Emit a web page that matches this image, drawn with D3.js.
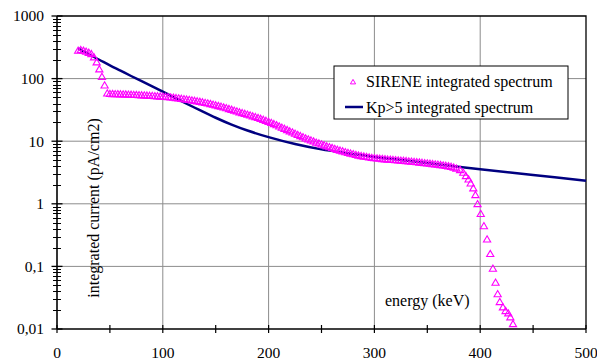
<!DOCTYPE html>
<html>
<head>
<meta charset="utf-8">
<script src="https://cdn.jsdelivr.net/npm/d3@7"></script>
<style>
  body { margin: 0; background: #fff; }
</style>
</head>
<body>
<svg id="plot1" width="597" height="362"></svg>
<script>
// SIRENE integrated spectrum (triangles), energy in keV / current in pA/cm2
var sireneEnergy = [20, 22.5, 25, 27.5, 30, 32.5, 35, 37.5, 40, 42.5, 45, 47.5,
  50, 52.5, 55, 57.5, 60, 62.5, 65, 67.5, 70, 72.5, 75, 77.5, 80, 82.5, 85, 87.5, 90, 92.5, 95, 97.5,
  100, 102.5, 105, 107.5, 110, 112.5, 115, 117.5, 120, 122.5, 125, 127.5, 130, 132.5, 135, 137.5, 140, 142.5, 145, 147.5,
  150, 152.5, 155, 157.5, 160, 162.5, 165, 167.5, 170, 172.5, 175, 177.5, 180, 182.5, 185, 187.5, 190, 192.5, 195, 197.5,
  200, 202.5, 205, 207.5, 210, 212.5, 215, 217.5, 220, 222.5, 225, 227.5, 230, 232.5, 235, 237.5, 240, 242.5, 245, 247.5,
  250, 252.5, 255, 257.5, 260, 262.5, 265, 267.5, 270, 272.5, 275, 277.5, 280, 282.5, 285, 287.5, 290, 292.5, 295, 297.5,
  300, 302.5, 305, 307.5, 310, 312.5, 315, 317.5, 320, 322.5, 325, 327.5, 330, 332.5, 335, 337.5, 340, 342.5, 345, 347.5,
  350, 352.5, 355, 357.5, 360, 362.5, 365, 367.5, 370, 372.5, 375, 377.5,
  381, 384, 386.5, 389, 391, 393.5, 395.5, 397.5, 400.5, 403.5, 406.5, 409.5, 412, 414.5, 416.5, 418.5,
  421.5, 424, 426.5, 428.5, 431];
var sireneCurrent = [279, 286, 279, 269, 259, 247, 219, 182, 141, 107, 78, 58,
  57, 56.8, 56.6, 56.4, 56.2, 56, 55.8, 55.5, 55.3, 55, 54.8, 54.5, 54.2, 53.9, 53.6, 53.2, 52.9, 52.5, 52.2, 51.8,
  51.4, 50.9, 50.5, 50, 49.5, 48.9, 48.3, 47.6, 47, 46.3, 45.6, 44.9, 44.2, 43.4, 42.7, 41.8, 41, 40.1, 39.3, 38.4,
  37.5, 36.5, 35.6, 34.6, 33.7, 32.7, 31.8, 30.8, 29.9, 29, 28.2, 27.4, 26.6, 25.8, 25, 24.3, 23.5, 22.8, 22, 21.2,
  20.4, 19.6, 18.8, 18, 17.2, 16.5, 15.8, 15.1, 14.4, 13.8, 13.2, 12.6, 12.1, 11.6, 11.1, 10.7, 10.3, 9.9, 9.5, 9.2,
  8.9, 8.6, 8.3, 8.05, 7.8, 7.55, 7.3, 7.1, 6.9, 6.7, 6.5, 6.35, 6.2, 6.05, 5.9, 5.8, 5.7, 5.6, 5.5, 5.42,
  5.35, 5.3, 5.25, 5.2, 5.15, 5.1, 5.06, 5.02, 4.98, 4.94, 4.9, 4.86, 4.82, 4.77, 4.72, 4.67, 4.62, 4.57, 4.52, 4.47,
  4.42, 4.37, 4.32, 4.27, 4.22, 4.17, 4.11, 4.05, 3.98, 3.9, 3.8, 3.66,
  3.47, 3.14, 2.78, 2.46, 2.12, 1.77, 1.38, 0.99, 0.69, 0.44, 0.27, 0.158, 0.092, 0.055, 0.036, 0.027,
  0.0222, 0.0194, 0.0178, 0.0154, 0.012];

// Kp>5 integrated spectrum (line)
var kpEnergy = [20, 30, 40, 50, 60, 70, 80, 90, 100, 110, 120, 135, 150, 165, 180, 200, 225, 250, 275, 300, 325, 350, 375, 400, 450, 500];
var kpCurrent = [305, 245, 200, 163, 134, 110, 91, 75, 61.7, 50.7, 41.7, 31.3, 23.7, 18.4, 14.8, 11.6, 9.0, 7.4, 6.4, 5.6, 5.0, 4.47, 3.98, 3.57, 2.88, 2.34];

var xTicks = [0, 100, 200, 300, 400, 500];
var xMinorTicks = [50, 150, 250, 350, 450];
var yTicks = [0.01, 0.1, 1, 10, 100, 1000];
var yTickLabels = ["0,01", "0,1", "1", "10", "100", "1000"];

var seriesNames = ["SIRENE integrated spectrum", "Kp>5 integrated spectrum"];

var serif = "Liberation Serif, Times New Roman, DejaVu Serif, serif";

var svg = d3.select("#plot1"),
    margin = {top: 16, right: 11, bottom: 33, left: 57},
    width = +svg.attr("width") - margin.left - margin.right,
    height = +svg.attr("height") - margin.top - margin.bottom;

var x = d3.scaleLinear().domain([0, 500]).range([0, width]),
    y = d3.scaleLog().domain([0.01, 1000]).range([height, 0]);

var g = svg.append("g")
    .attr("transform", "translate(" + margin.left + "," + margin.top + ")");

// grid
g.selectAll(".vgrid")
    .data(xTicks.slice(1, -1))
    .enter().append("line")
    .attr("x1", function(d) { return x(d); })
    .attr("x2", function(d) { return x(d); })
    .attr("y1", 0).attr("y2", height)
    .attr("stroke", "#8c8c8c").attr("stroke-width", 1);

g.selectAll(".hgrid")
    .data(yTicks.slice(1, -1))
    .enter().append("line")
    .attr("x1", 0).attr("x2", width)
    .attr("y1", function(d) { return y(d); })
    .attr("y2", function(d) { return y(d); })
    .attr("stroke", "#8c8c8c").attr("stroke-width", 1);

// frame top + right
g.append("path")
    .attr("d", "M0,0H" + width + "V" + height)
    .attr("fill", "none").attr("stroke", "#000").attr("stroke-width", 1.3);

// y axis with log minor ticks on both sides
var yMinor = y.ticks().filter(function(d) { return yTicks.indexOf(d) < 0; });
g.selectAll(".yminor")
    .data(yMinor)
    .enter().append("line")
    .attr("x1", -4).attr("x2", 4)
    .attr("y1", function(d) { return Math.round(y(d)) + 0.5; })
    .attr("y2", function(d) { return Math.round(y(d)) + 0.5; })
    .attr("stroke", "#000").attr("stroke-width", 1);

g.selectAll(".ymajor")
    .data(yTicks)
    .enter().append("line")
    .attr("x1", -5.5).attr("x2", 5.5)
    .attr("y1", function(d) { return y(d); })
    .attr("y2", function(d) { return y(d); })
    .attr("stroke", "#000").attr("stroke-width", 1.3);

g.selectAll(".ylabel")
    .data(yTicks)
    .enter().append("text")
    .attr("x", -13)
    .attr("y", function(d) { return y(d); })
    .attr("dy", "0.35em")
    .attr("text-anchor", "end")
    .style("font-family", serif)
    .style("font-size", "15.5px")
    .text(function(d, i) { return yTickLabels[i]; });

// x axis
g.selectAll(".xtick")
    .data(xTicks.concat(xMinorTicks))
    .enter().append("line")
    .attr("x1", function(d) { return x(d); })
    .attr("x2", function(d) { return x(d); })
    .attr("y1", height - 4).attr("y2", height + 4)
    .attr("stroke", "#000").attr("stroke-width", 1.2);

g.selectAll(".xlabel")
    .data(xTicks)
    .enter().append("text")
    .attr("x", function(d) { return x(d); })
    .attr("y", height + 29)
    .attr("text-anchor", "middle")
    .style("font-family", serif)
    .style("font-size", "15.5px")
    .text(function(d) { return d; });

g.append("line")
    .attr("x1", 0).attr("x2", 0).attr("y1", 0).attr("y2", height)
    .attr("stroke", "#000").attr("stroke-width", 1.6);
g.append("line")
    .attr("x1", 0).attr("x2", width).attr("y1", height).attr("y2", height)
    .attr("stroke", "#000").attr("stroke-width", 1.6);

// axis titles
g.append("text")
    .attr("transform", "translate(" + 42 + "," + 192 + ") rotate(-90)")
    .attr("text-anchor", "middle")
    .style("font-family", serif)
    .style("font-size", "16px")
    .text("integrated current (pA/cm2)");

g.append("text")
    .attr("x", 328).attr("y", 290)
    .style("font-family", serif)
    .style("font-size", "16px")
    .text("energy (keV)");

// Kp line
var kpData = kpEnergy.map(function(e, i) { return {e: e, v: kpCurrent[i]}; });
var line = d3.line()
    .x(function(d) { return x(d.e); })
    .y(function(d) { return y(d.v); })
    .curve(d3.curveCatmullRom.alpha(0.5));

g.append("path")
    .datum(kpData)
    .attr("d", line)
    .attr("fill", "none")
    .attr("stroke", "#000080")
    .attr("stroke-width", 2.5);

// SIRENE triangles
var tri = "M0,-3.6L3.6,2.6L-3.6,2.6Z";
var sireneData = sireneEnergy.map(function(e, i) { return {e: e, v: sireneCurrent[i]}; });
g.selectAll(".sirene")
    .data(sireneData)
    .enter().append("path")
    .attr("class", "sirene")
    .attr("d", tri)
    .attr("transform", function(d) { return "translate(" + x(d.e) + "," + y(d.v) + ")"; })
    .attr("fill", "none")
    .attr("stroke", "#ff00ff")
    .attr("stroke-width", 1.1);

// legend
var legend = svg.append("g").attr("transform", "translate(334,66)");
legend.append("rect")
    .attr("width", 234).attr("height", 53)
    .attr("fill", "#fff").attr("stroke", "#000").attr("stroke-width", 1);
legend.append("path")
    .attr("d", "M0,-2.6L2.6,1.9L-2.6,1.9Z")
    .attr("transform", "translate(19,16)")
    .attr("fill", "none").attr("stroke", "#ff00ff").attr("stroke-width", 1);
legend.append("line")
    .attr("x1", 11).attr("x2", 29).attr("y1", 41).attr("y2", 41)
    .attr("stroke", "#000080").attr("stroke-width", 2.5);
legend.selectAll(".legtext")
    .data(seriesNames)
    .enter().append("text")
    .attr("x", 32)
    .attr("y", function(d, i) { return 21 + i * 25.5; })
    .style("font-family", serif)
    .style("font-size", "16px")
    .text(function(d) { return d; });
</script>
</body>
</html>
